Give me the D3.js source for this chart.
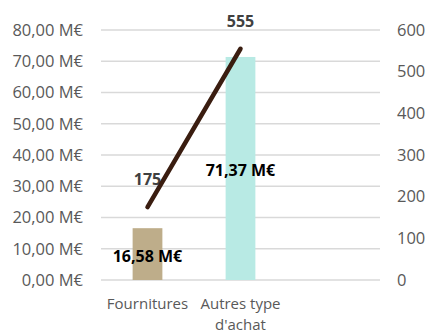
<!DOCTYPE html>
<html>
<head>
<meta charset="utf-8">
<script src="https://cdn.jsdelivr.net/npm/d3@7"></script>
<style>
  body { margin: 0; background: #fff; }
  text { font-family: "Open Sans", sans-serif; }
</style>
</head>
<body>
<div id="chart"></div>
<script>
// data
var categories = ["Fournitures", "Autres type d'achat", ""];
var amounts = [16.58, 71.37, null];   // M€
var counts = [175, 555, null];
var barColors = ["#bead8a", "#b8eae4", "#cccccc"];
var leftTicks = [0, 10, 20, 30, 40, 50, 60, 70, 80];
var rightTicks = [0, 100, 200, 300, 400, 500, 600];

var width = 428, height = 335;
var plot = { left: 101, right: 380, top: 30, bottom: 280 };

var svg = d3.select('#chart')
    .append('svg')
    .attr('width', width)
    .attr('height', height);

var x = d3.scaleBand()
    .domain(d3.range(categories.length))
    .range([plot.left, plot.right])
    .paddingInner(0.68)
    .paddingOuter(0.34);

var yLeft = d3.scaleLinear().domain([0, 80]).range([plot.bottom, plot.top]);
var yRight = d3.scaleLinear().domain([0, 600]).range([plot.bottom, plot.top]);

var frNum = function (v) { return d3.format('.2f')(v).replace('.', ','); };

// gridlines
svg.append('g')
    .selectAll('line')
    .data(leftTicks)
    .enter().append('line')
    .attr('x1', plot.left)
    .attr('x2', plot.right)
    .attr('y1', function (d) { return yLeft(d); })
    .attr('y2', function (d) { return yLeft(d); })
    .style('stroke', '#d9d9d9')
    .style('stroke-width', 1.3);

// left axis
var leftAxis = svg.append('g')
    .attr('transform', 'translate(' + (plot.left - 18) + ',0)')
    .call(d3.axisLeft(yLeft).tickValues(leftTicks).tickSize(0).tickPadding(0)
        .tickFormat(function (d) { return frNum(d) + ' M€'; }));
leftAxis.select('.domain').remove();
leftAxis.selectAll('text')
    .style('font-size', '16.5px')
    .style('font-family', '"Open Sans", sans-serif')
    .attr('fill', '#595959');

// right axis
var rightAxis = svg.append('g')
    .attr('transform', 'translate(' + (plot.right + 17) + ',0)')
    .call(d3.axisRight(yRight).tickValues(rightTicks).tickSize(0).tickPadding(0));
rightAxis.select('.domain').remove();
rightAxis.selectAll('text')
    .style('font-size', '16.5px')
    .style('font-family', '"Open Sans", sans-serif')
    .attr('fill', '#595959');

// x axis labels (wrapped)
var xAxis = svg.append('g')
    .attr('transform', 'translate(0,' + plot.bottom + ')')
    .call(d3.axisBottom(x).tickSize(0).tickPadding(0)
        .tickFormat(function (i) { return categories[i]; }));
xAxis.select('.domain').remove();
xAxis.selectAll('text')
    .style('font-size', '15px')
    .style('font-family', '"Open Sans", sans-serif')
    .attr('fill', '#595959')
    .attr('y', 29)
    .attr('dy', 0)
    .each(function () {
        var t = d3.select(this);
        var words = t.text().split(/\s+/).filter(function (w) { return w; });
        var maxW = x.step() - 2;
        t.text(null);
        var line = [];
        var tspan = t.append('tspan').attr('x', 0).attr('dy', 0);
        words.forEach(function (w) {
            line.push(w);
            tspan.text(line.join(' '));
            if (tspan.node().getComputedTextLength() > maxW && line.length > 1) {
                line.pop();
                tspan.text(line.join(' '));
                line = [w];
                tspan = t.append('tspan').attr('x', 0).attr('dy', 20.5).text(w);
            }
        });
    });

var idx = d3.range(categories.length).filter(function (i) { return amounts[i] != null; });

// bars
svg.append('g')
    .selectAll('rect')
    .data(idx)
    .enter().append('rect')
    .attr('x', function (i) { return x(i); })
    .attr('width', x.bandwidth())
    .attr('y', function (i) { return yLeft(amounts[i]); })
    .attr('height', function (i) { return yLeft(0) - yLeft(amounts[i]); })
    .style('fill', function (i) { return barColors[i]; });

var cx = function (i) { return x(i) + x.bandwidth() / 2; };

// line labels
svg.append('g')
    .selectAll('text')
    .data(idx)
    .enter().append('text')
    .attr('x', function (i) { return cx(i); })
    .attr('y', function (i) { return yRight(counts[i]) - 22; })
    .attr('text-anchor', 'middle')
    .style('font-size', '16px')
    .style('font-weight', 'bold')
    .attr('fill', '#404040')
    .text(function (i) { return counts[i]; });

// line
svg.append('path')
    .datum(idx)
    .attr('d', d3.line()
        .x(function (i) { return cx(i); })
        .y(function (i) { return yRight(counts[i]); }))
    .style('fill', 'none')
    .style('stroke', '#3a1d10')
    .style('stroke-width', 4.5)
    .style('stroke-linecap', 'round');

// bar labels
svg.append('g')
    .selectAll('text')
    .data(idx)
    .enter().append('text')
    .attr('x', function (i) { return cx(i); })
    .attr('y', function (i) { return (yLeft(amounts[i]) + yLeft(0)) / 2 + 2; })
    .attr('dy', '0.35em')
    .attr('text-anchor', 'middle')
    .style('font-size', '16px')
    .style('font-weight', 'bold')
    .attr('fill', '#000')
    .text(function (i) { return frNum(amounts[i]) + ' M€'; });
</script>
</body>
</html>
